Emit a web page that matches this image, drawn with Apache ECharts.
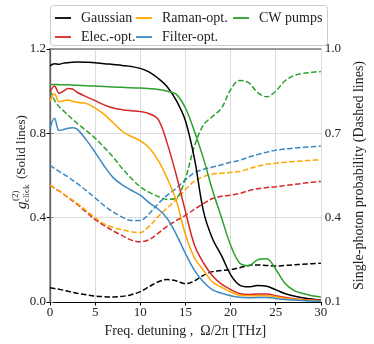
<!DOCTYPE html>
<html>
<head>
<meta charset="utf-8">
<script src="https://cdn.jsdelivr.net/npm/echarts@6/dist/echarts.min.js"></script>
<style>
  html, body { margin: 0; padding: 0; background: #fff; }
  #chart { width: 374px; height: 344px; }
</style>
</head>
<body>
<div id="chart"></div>
<script>
// detuning grid (THz)
var freq = [0, 0.5, 1, 1.5, 2, 2.5, 3, 4, 5, 6, 7, 8, 9, 10, 11, 12, 13, 14, 15,
            16, 17, 18, 19, 20, 21, 22, 23, 24, 25, 26, 27, 28, 29, 30];

// g2 click (solid lines, left axis)
var g2Gauss  = [1.12, 1.13, 1.128, 1.133, 1.135, 1.137, 1.138, 1.137, 1.135, 1.13, 1.127, 1.122, 1.117, 1.108, 1.09, 1.06, 1.02, 0.955, 0.86,
                0.68, 0.43, 0.3, 0.22, 0.13, 0.08, 0.072, 0.078, 0.075, 0.058, 0.04, 0.028, 0.02, 0.014, 0.01];
var g2Elec   = [0.998, 1.025, 0.99, 1.0, 1.013, 1.01, 0.995, 0.974, 0.955, 0.935, 0.92, 0.912, 0.907, 0.903, 0.893, 0.865, 0.75, 0.6, 0.43,
                0.27, 0.185, 0.125, 0.085, 0.06, 0.04, 0.035, 0.038, 0.038, 0.03, 0.022, 0.016, 0.012, 0.01, 0.008];
var g2Raman  = [0.953, 0.986, 0.95, 0.955, 0.958, 0.952, 0.947, 0.942, 0.92, 0.89, 0.85, 0.81, 0.785, 0.765, 0.73, 0.67, 0.585, 0.48, 0.32,
                0.21, 0.15, 0.095, 0.07, 0.048, 0.032, 0.03, 0.03, 0.03, 0.025, 0.018, 0.013, 0.01, 0.008, 0.006];
var g2Filter = [0.824, 0.871, 0.813, 0.818, 0.824, 0.827, 0.82, 0.77, 0.71, 0.645, 0.59, 0.555, 0.53, 0.507, 0.47, 0.44, 0.395, 0.32, 0.23,
                0.15, 0.095, 0.058, 0.042, 0.03, 0.022, 0.02, 0.021, 0.021, 0.017, 0.012, 0.009, 0.007, 0.005, 0.004];
var g2CW     = [1.032, 1.032, 1.031, 1.03, 1.03, 1.029, 1.028, 1.026, 1.024, 1.022, 1.02, 1.018, 1.016, 1.015, 1.012, 1.008, 1.0, 0.985, 0.92,
                0.81, 0.68, 0.53, 0.4, 0.27, 0.185, 0.172, 0.2, 0.205, 0.155, 0.09, 0.055, 0.04, 0.03, 0.024];

// single-photon probability (dashed lines, right axis)
var pGauss  = [0.151, 0.148, 0.145, 0.142, 0.138, 0.135, 0.131, 0.126, 0.121, 0.119, 0.118, 0.12, 0.126, 0.137, 0.155, 0.172, 0.18, 0.175, 0.165,
               0.175, 0.195, 0.208, 0.212, 0.215, 0.222, 0.23, 0.232, 0.23, 0.228, 0.23, 0.232, 0.234, 0.236, 0.238];
var pElec   = [0.516, 0.505, 0.495, 0.484, 0.472, 0.46, 0.448, 0.42, 0.393, 0.372, 0.353, 0.336, 0.32, 0.314, 0.322, 0.345, 0.37, 0.39, 0.408,
               0.43, 0.45, 0.468, 0.476, 0.48, 0.486, 0.496, 0.503, 0.507, 0.51, 0.514, 0.518, 0.522, 0.526, 0.529];
var pRaman  = [0.516, 0.505, 0.495, 0.484, 0.473, 0.462, 0.451, 0.425, 0.4, 0.378, 0.365, 0.357, 0.35, 0.347, 0.37, 0.405, 0.435, 0.465, 0.5,
               0.53, 0.546, 0.555, 0.558, 0.561, 0.564, 0.574, 0.583, 0.59, 0.594, 0.597, 0.6, 0.602, 0.604, 0.606];
var pFilter = [0.587, 0.575, 0.565, 0.555, 0.545, 0.533, 0.522, 0.497, 0.47, 0.443, 0.42, 0.402, 0.39, 0.39, 0.415, 0.45, 0.48, 0.505, 0.535,
               0.56, 0.572, 0.58, 0.588, 0.597, 0.604, 0.615, 0.625, 0.633, 0.64, 0.644, 0.647, 0.65, 0.652, 0.655];
var pCW     = [0.854, 0.818, 0.795, 0.78, 0.765, 0.75, 0.736, 0.71, 0.683, 0.65, 0.615, 0.575, 0.54, 0.51, 0.49, 0.475, 0.465, 0.47, 0.54,
               0.655, 0.73, 0.76, 0.79, 0.855, 0.888, 0.88, 0.845, 0.83, 0.85, 0.886, 0.905, 0.913, 0.917, 0.92];

var names  = ['Gaussian', 'Elec.-opt.', 'Raman-opt.', 'Filter-opt.', 'CW pumps'];
var colors = ['#000000', '#d62728', '#ffa500', '#3b88c4', '#2ca02c'];
var solid  = [g2Gauss, g2Elec, g2Raman, g2Filter, g2CW];
var dashed = [pGauss, pElec, pRaman, pFilter, pCW];

var FONT = 'Liberation Serif';

function pairs(ys) {
    return freq.map(function (x, i) { return [x, ys[i]]; });
}

var series = [];
// dashed first so solid lines sit on top
dashed.forEach(function (ys, i) {
    series.push({
        name: names[i] + ' p', type: 'line', yAxisIndex: 1, data: pairs(ys),
        showSymbol: false, smooth: 0.35, silent: true,
        lineStyle: { color: colors[i], width: 1.5, type: [5.5, 2.4] },
        itemStyle: { color: colors[i] }
    });
});
solid.forEach(function (ys, i) {
    series.push({
        name: names[i], type: 'line', yAxisIndex: 0, data: pairs(ys),
        showSymbol: false, smooth: 0.35, silent: true,
        lineStyle: { color: colors[i], width: 1.5 },
        itemStyle: { color: colors[i] }
    });
});

function legendCol(items, left) {
    return {
        data: items, orient: 'vertical', left: left, top: 6,
        icon: 'rect', itemWidth: 16, itemHeight: 1.8, itemGap: 5,
        textStyle: { fontFamily: FONT, fontSize: 14, color: '#222', padding: [0, 0, 0, 5], lineHeight: 14 }
    };
}

var chart = echarts.init(document.getElementById('chart'), null, { renderer: 'canvas' });
chart.setOption({
    animation: false,
    backgroundColor: '#fff',
    textStyle: { fontFamily: FONT },
    grid: { left: 50, right: 42, top: 49, bottom: 42 },
    legend: [
        legendCol(['Gaussian', 'Elec.-opt.'], 50),
        legendCol(['Raman-opt.', 'Filter-opt.'], 131),
        legendCol(['CW pumps'], 228)
    ],
    xAxis: [{
        type: 'value', min: 0, max: 30, interval: 5,
        name: 'Freq. detuning ,  Ω/2π [THz]', nameLocation: 'middle', nameGap: 20,
        nameTextStyle: { fontFamily: FONT, fontSize: 14, color: '#222' },
        axisLine: { lineStyle: { color: '#000', width: 1.2 } },
        axisTick: { length: 3.5, lineStyle: { color: '#000' } },
        axisLabel: { fontFamily: FONT, fontSize: 13, color: '#222', margin: 4 },
        splitLine: { show: true, lineStyle: { color: '#dcdcdc', width: 1 } }
    }, {
        type: 'value', min: 0, max: 30, position: 'top',
        axisLine: { lineStyle: { color: '#808080', width: 1.5 } },
        axisTick: { show: false }, axisLabel: { show: false }, splitLine: { show: false }
    }],
    yAxis: [{
        type: 'value', min: 0, max: 1.2, interval: 0.4,
        axisLine: { show: true, lineStyle: { color: '#000', width: 1.2 } },
        axisTick: { show: true, length: 3.5, lineStyle: { color: '#000' } },
        axisLabel: { fontFamily: FONT, fontSize: 13, color: '#222', margin: 4,
                     formatter: function (v) { return v.toFixed(1); } },
        splitLine: { show: true, lineStyle: { color: '#dcdcdc', width: 1 } }
    }, {
        type: 'value', min: 0.1, max: 1.0, interval: 0.3, position: 'right',
        name: 'Single-photon probability (Dashed lines)', nameLocation: 'middle', nameRotate: 90, nameGap: 19,
        nameTextStyle: { fontFamily: FONT, fontSize: 14, color: '#222' },
        axisLine: { show: true, lineStyle: { color: '#808080', width: 1.5 } },
        axisTick: { show: true, length: 3.5, lineStyle: { color: '#808080' } },
        axisLabel: { fontFamily: FONT, fontSize: 13, color: '#222', margin: 4,
                     formatter: function (v) { return v.toFixed(1); } },
        splitLine: { show: false }
    }],
    graphic: [{
        type: 'rect', left: 50, top: 5, z: 0,
        shape: { width: 277, height: 40, r: 3 },
        style: { fill: 'rgba(255,255,255,0.85)', stroke: '#cccccc', lineWidth: 1 }
    }, {
        type: 'group', x: 22, y: 163, rotation: Math.PI / 2,
        children: [
            { type: 'text', x: -46, y: 0, style: { text: 'g', font: 'italic 15px ' + FONT, fill: '#222', verticalAlign: 'middle' } },
            { type: 'text', x: -38, y: -6, style: { text: '(2)', font: '9px ' + FONT, fill: '#222', verticalAlign: 'middle' } },
            { type: 'text', x: -39, y: 5, style: { text: 'click', font: '9px ' + FONT, fill: '#222', verticalAlign: 'middle' } },
            { type: 'text', x: -16, y: 0, style: { text: '(Solid lines)', font: '13px ' + FONT, fill: '#222', verticalAlign: 'middle' } }
        ]
    }],
    series: series
});
</script>
</body>
</html>
